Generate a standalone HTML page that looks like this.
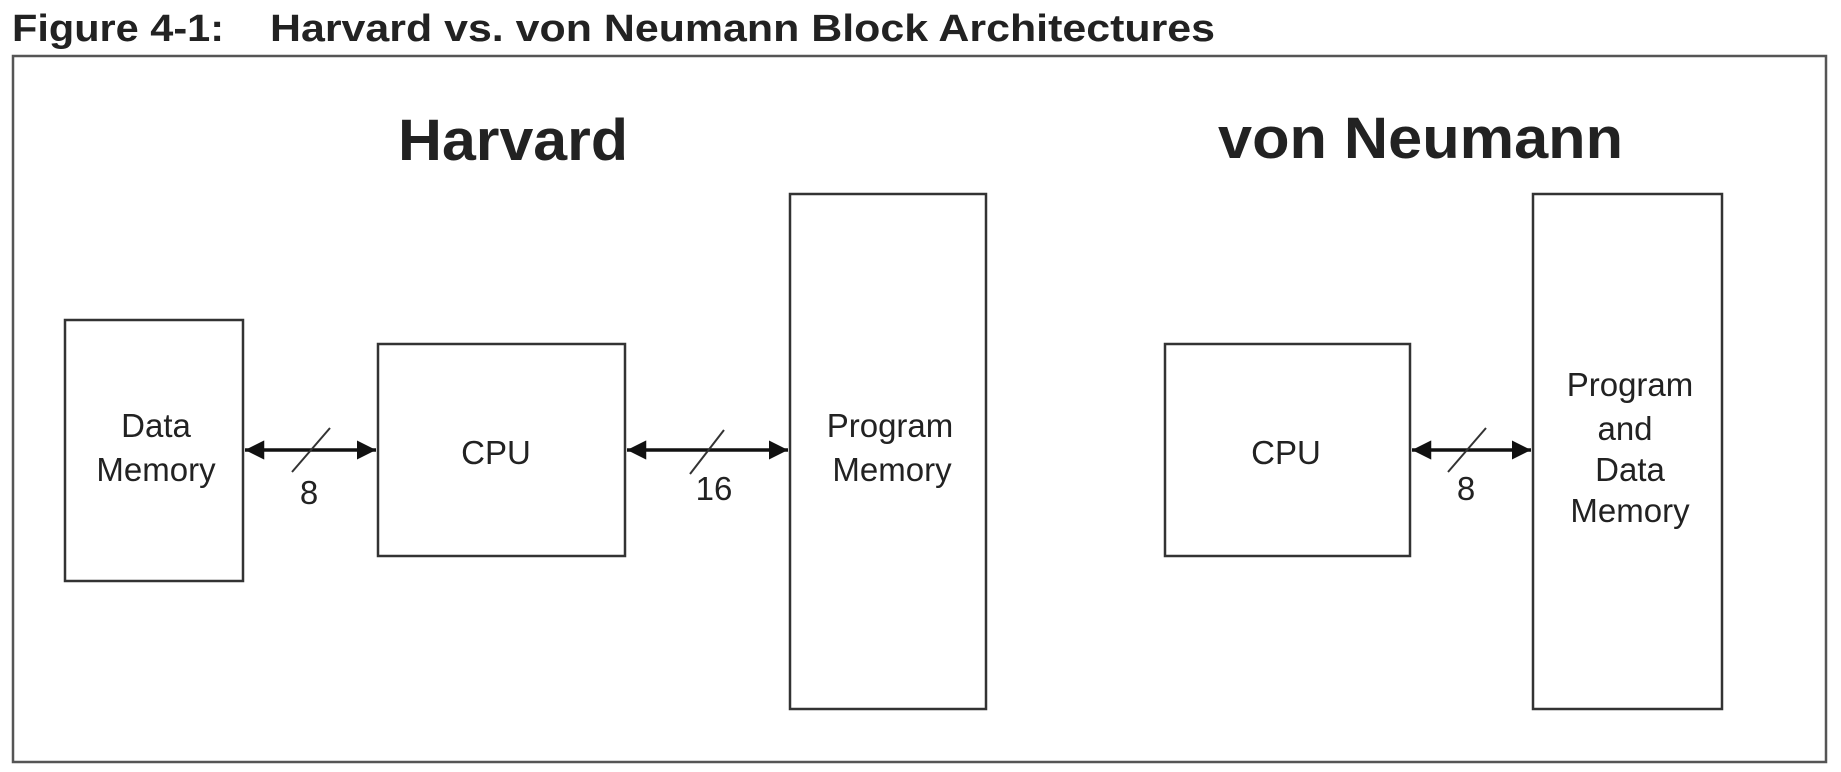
<!DOCTYPE html>
<html><head><style>
body{margin:0;background:#fff;}
svg{display:block}
text{font-family:"Liberation Sans",sans-serif;fill:#222}
</style></head><body>
<svg width="1841" height="772" viewBox="0 0 1841 772" xmlns="http://www.w3.org/2000/svg">
<defs>
<marker id="a" viewBox="0 0 10 10" refX="10" refY="5" markerWidth="5.5" markerHeight="5.5" orient="auto-start-reverse"><path d="M0,0L10,5L0,10z" fill="#111"/></marker>
</defs>
<text x="12" y="41" font-size="38" font-weight="bold" textLength="212" lengthAdjust="spacingAndGlyphs">Figure 4-1:</text>
<text x="270" y="41" font-size="38" font-weight="bold" textLength="945" lengthAdjust="spacingAndGlyphs">Harvard vs. von Neumann Block Architectures</text>
<rect x="13" y="56" width="1813" height="706" fill="none" stroke="#555" stroke-width="2.5"/>
<text x="398" y="160" font-size="58" font-weight="bold" textLength="230" lengthAdjust="spacingAndGlyphs">Harvard</text>
<text x="1218" y="158" font-size="58" font-weight="bold" textLength="405" lengthAdjust="spacingAndGlyphs">von Neumann</text>
<g fill="none" stroke="#333" stroke-width="2.5">
<rect x="65" y="320" width="178" height="261"/>
<rect x="378" y="344" width="247" height="212"/>
<rect x="790" y="194" width="196" height="515"/>
<rect x="1165" y="344" width="245" height="212"/>
<rect x="1533" y="194" width="189" height="515"/>
</g>
<g stroke="#111" stroke-width="3.5">
<line x1="245" y1="450" x2="376" y2="450" marker-start="url(#a)" marker-end="url(#a)"/>
<line x1="627" y1="450" x2="788" y2="450" marker-start="url(#a)" marker-end="url(#a)"/>
<line x1="1412" y1="450" x2="1531" y2="450" marker-start="url(#a)" marker-end="url(#a)"/>
</g>
<g stroke="#333" stroke-width="2">
<line x1="292" y1="472" x2="330" y2="428"/>
<line x1="690" y1="474" x2="724" y2="430"/>
<line x1="1448" y1="472" x2="1486" y2="428"/>
</g>
<g font-size="33" text-anchor="middle">
<text x="309" y="504">8</text>
<text x="714" y="500">16</text>
<text x="1466" y="500">8</text>
<text x="156" y="437">Data</text>
<text x="156" y="481">Memory</text>
<text x="496" y="464">CPU</text>
<text x="890" y="437">Program</text>
<text x="892" y="481">Memory</text>
<text x="1286" y="464">CPU</text>
<text x="1630" y="396">Program</text>
<text x="1625" y="440">and</text>
<text x="1630" y="481">Data</text>
<text x="1630" y="522">Memory</text>
</g>
</svg>
</body></html>
